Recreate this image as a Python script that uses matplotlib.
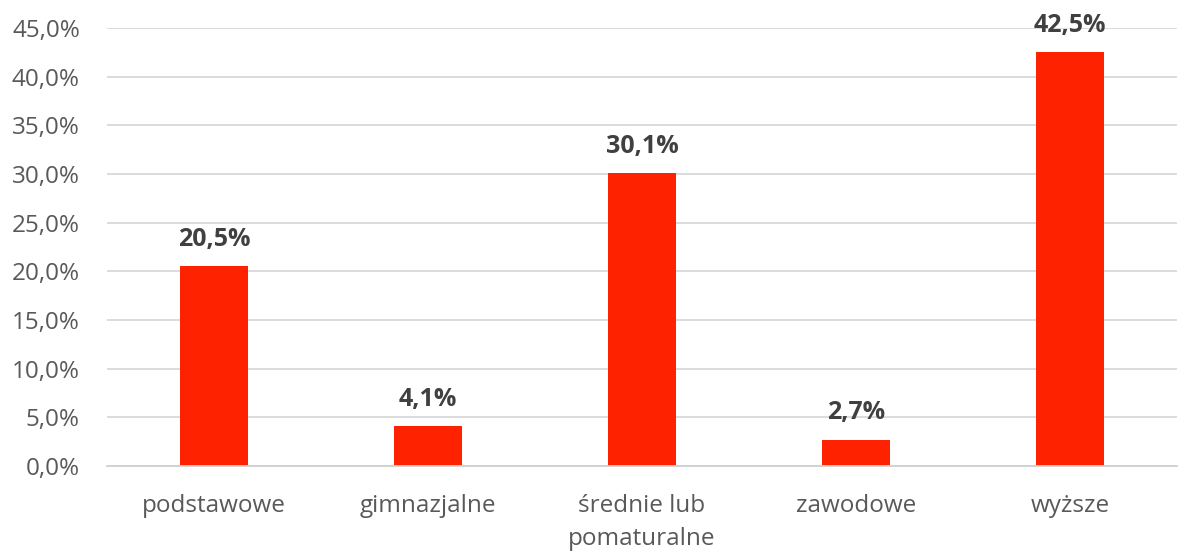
import matplotlib
matplotlib.use("Agg")
import matplotlib.pyplot as plt

categories = ["podstawowe", "gimnazjalne", "średnie lub\npomaturalne", "zawodowe", "wyższe"]
values = [20.5, 4.1, 30.1, 2.7, 42.5]
yticks = [0, 5, 10, 15, 20, 25, 30, 35, 40, 45]

plt.rcParams['font.family'] = ['Open Sans', 'DejaVu Sans']

fig = plt.figure(figsize=(11.78, 5.53), dpi=100)
ax = fig.add_axes([107/1178, 87/553, 1070/1178, 438/553])

x = list(range(len(categories)))
ax.bar(x, values, width=0.315, color="#FF2200", zorder=3)
ax.set_xlim(-0.5, len(categories) - 0.5)
ax.set_ylim(0, 45)
ax.set_yticks(yticks)
ax.set_yticklabels([f"{v:.1f}%".replace(".", ",") for v in yticks])
ax.set_xticks(x)
ax.set_xticklabels(categories, linespacing=1.5)
ax.tick_params(axis='both', length=0, labelsize=17.5, labelcolor="#595959")
ax.tick_params(axis='y', pad=19.5)
ax.tick_params(axis='x', pad=20)
ax.grid(axis='y', color="#D9D9D9", linewidth=1.3, zorder=0)
for s in ["top", "right", "left"]:
    ax.spines[s].set_visible(False)
ax.spines["bottom"].set_color("#D0D0D0")
ax.spines["bottom"].set_linewidth(1.3)
ax.spines["bottom"].set_zorder(4)

for xi, v in zip(x, values):
    ax.text(xi, v + 2.75, f"{v:.1f}%".replace(".", ","), ha="center", va="center",
            fontsize=18, fontweight="bold", color="#404040", clip_on=False)

fig.savefig("out.png", dpi=100)
